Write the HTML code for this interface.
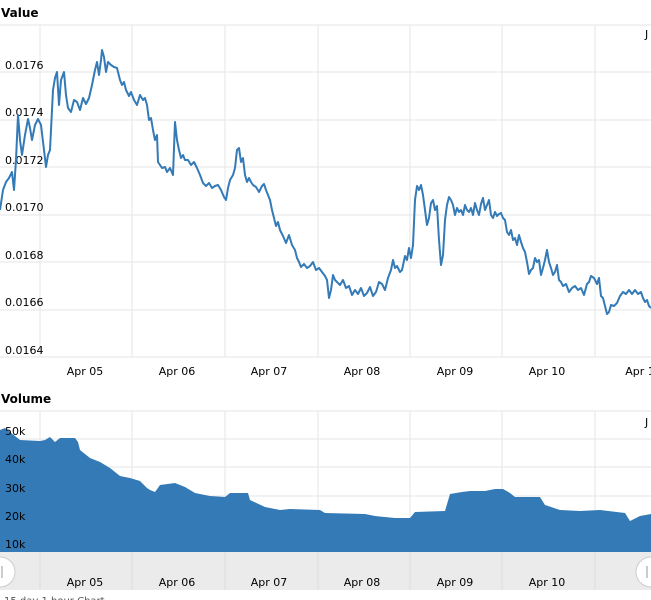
<!DOCTYPE html>
<html><head><style>
body{margin:0;background:#fff;width:651px;height:600px;overflow:hidden;font-family:"Liberation Sans",Verdana,sans-serif}
svg{display:block}
text{font-family:"DejaVu Sans","Liberation Sans",sans-serif;font-size:11px;fill:#000}
</style></head><body>
<svg width="651" height="600" viewBox="0 0 651 600">
<text x="1" y="17" style="font-weight:bold;font-size:12px">Value</text>
<g stroke="#e6e6e6" stroke-width="1">
<line x1="0" y1="25" x2="651" y2="25"/><line x1="0" y1="72" x2="651" y2="72"/><line x1="0" y1="120" x2="651" y2="120"/><line x1="0" y1="167" x2="651" y2="167"/><line x1="0" y1="215" x2="651" y2="215"/><line x1="0" y1="262" x2="651" y2="262"/><line x1="0" y1="310" x2="651" y2="310"/><line x1="0" y1="357" x2="651" y2="357"/>
<line x1="40" y1="25" x2="40" y2="357"/><line x1="132" y1="25" x2="132" y2="357"/><line x1="225" y1="25" x2="225" y2="357"/><line x1="318" y1="25" x2="318" y2="357"/><line x1="410" y1="25" x2="410" y2="357"/><line x1="502" y1="25" x2="502" y2="357"/><line x1="595" y1="25" x2="595" y2="357"/>
</g>
<g>
<text x="5" y="69">0.0176</text><text x="5" y="116">0.0174</text><text x="5" y="164">0.0172</text><text x="5" y="211">0.0170</text><text x="5" y="259">0.0168</text><text x="5" y="306">0.0166</text><text x="5" y="354">0.0164</text>
<text x="645" y="38">J</text>
</g>
<polyline fill="none" stroke="#337ab7" stroke-width="2" stroke-linejoin="round" points="0,210 3,190 6,182 9,178 12,172 14,190 16,160 18,115 20,140 22,155 25,135 28,119 30,128 32,140 35,125 38,119 41,125 44,150 46,167 48,155 50,150 53,90 55,78 57,72 59,105 61,80 64,72 66,95 68,108 71,112 74,100 77,102 80,110 83,98 86,104 89,98 92,85 95,70 97,62 99,75 101,60 102,50 104,57 106,72 108,62 111,65 114,67 117,68 120,80 122,85 124,82 126,90 129,96 131,92 134,100 137,105 140,95 143,100 145,98 147,105 149,120 151,118 153,130 155,140 157,135 158,162 160,165 162,168 165,167 167,172 170,168 173,175 175,122 177,140 179,150 181,158 183,155 185,160 188,160 191,165 194,162 197,168 200,175 203,183 206,186 209,183 212,188 215,186 218,185 221,190 224,197 226,200 228,188 230,180 233,175 235,168 237,150 239,148 241,162 243,158 245,175 247,182 249,178 251,182 253,185 256,187 259,192 262,186 264,184 266,190 268,195 270,200 272,210 274,218 276,226 278,222 280,230 283,236 286,243 289,235 292,245 295,250 297,258 299,262 301,267 304,264 307,268 310,266 313,262 316,270 319,268 322,272 325,276 327,280 329,298 331,290 333,275 335,280 337,282 340,285 343,280 346,288 349,286 352,295 355,290 358,294 361,288 364,296 367,293 370,287 373,296 376,292 379,282 382,284 385,290 388,278 391,270 393,260 395,268 397,266 400,272 402,270 405,256 407,260 409,248 411,258 413,245 415,200 417,186 419,190 421,185 423,195 425,210 427,225 429,218 431,203 433,200 435,210 437,206 439,240 441,265 443,255 445,220 447,205 449,197 451,200 453,205 455,215 457,208 459,212 461,210 463,215 465,205 467,210 469,212 471,208 473,215 475,203 477,210 479,215 481,204 483,198 485,210 487,205 489,200 491,215 493,218 495,212 497,216 499,214 501,213 503,218 505,220 507,232 509,235 511,230 513,240 515,238 517,245 519,235 521,242 523,248 525,252 527,262 529,274 531,270 533,268 535,258 537,262 539,260 541,275 543,268 545,260 547,250 549,262 551,268 553,275 555,272 557,265 559,280 561,282 563,286 566,284 569,292 572,288 575,286 578,290 581,288 584,295 587,284 589,282 591,276 594,278 597,284 599,278 601,296 603,298 605,306 607,314 609,312 611,305 614,306 617,303 620,296 623,292 626,294 629,290 632,294 635,290 638,294 641,292 643,298 645,302 647,300 649,306 651,308"/>
<g style="font-size:11px">
<text x="85" y="375" text-anchor="middle">Apr 05</text><text x="177" y="375" text-anchor="middle">Apr 06</text><text x="269" y="375" text-anchor="middle">Apr 07</text><text x="362" y="375" text-anchor="middle">Apr 08</text><text x="455" y="375" text-anchor="middle">Apr 09</text><text x="547" y="375" text-anchor="middle">Apr 10</text><text x="640" y="375" text-anchor="middle">Apr 1</text>
</g>
<text x="1" y="403" style="font-weight:bold;font-size:12px">Volume</text>
<g stroke="#e6e6e6" stroke-width="1">
<line x1="0" y1="411" x2="651" y2="411"/><line x1="0" y1="439" x2="651" y2="439"/><line x1="0" y1="467" x2="651" y2="467"/><line x1="0" y1="496" x2="651" y2="496"/><line x1="0" y1="524" x2="651" y2="524"/>
<line x1="40" y1="411" x2="40" y2="590"/><line x1="132" y1="411" x2="132" y2="590"/><line x1="225" y1="411" x2="225" y2="590"/><line x1="318" y1="411" x2="318" y2="590"/><line x1="410" y1="411" x2="410" y2="590"/><line x1="502" y1="411" x2="502" y2="590"/><line x1="595" y1="411" x2="595" y2="590"/>
</g>
<polygon fill="#337ab7" points="0,552 0,430 5,428 10,432 20,440 40,441 45,440 50,437 55,442 60,438 75,438 78,442 80,450 90,458 100,462 110,468 115,472 120,476 130,478 140,481 147,488 150,490 155,492 160,485 175,483 185,487 195,493 210,496 225,497 230,493 248,493 250,500 265,507 280,510 290,509 320,510 325,513 365,514 375,516 395,518 410,518 415,512 445,511 450,494 462,492 470,491 485,491 495,489 503,489 510,493 515,497 540,497 545,505 560,510 580,511 600,510 625,513 630,521 640,516 651,514 651,552"/>
<text x="5" y="435">50k</text><text x="5" y="463">40k</text><text x="5" y="492">30k</text><text x="5" y="520">20k</text><text x="5" y="548">10k</text>
<text x="645" y="426">J</text>
<rect x="0" y="552" width="651" height="38" fill="#ebebeb"/>
<g stroke="#dcdcdc"><line x1="40" y1="552" x2="40" y2="590"/><line x1="132" y1="552" x2="132" y2="590"/><line x1="225" y1="552" x2="225" y2="590"/><line x1="318" y1="552" x2="318" y2="590"/><line x1="410" y1="552" x2="410" y2="590"/><line x1="502" y1="552" x2="502" y2="590"/><line x1="595" y1="552" x2="595" y2="590"/></g>
<circle cx="0" cy="572" r="15" fill="#fff" stroke="#ccc"/>
<line x1="2" y1="566" x2="2" y2="578" stroke="#999"/>
<circle cx="651" cy="572" r="15" fill="#fff" stroke="#ccc"/>
<line x1="647" y1="566" x2="647" y2="578" stroke="#999"/>
<g>
<text x="85" y="586" text-anchor="middle">Apr 05</text><text x="177" y="586" text-anchor="middle">Apr 06</text><text x="269" y="586" text-anchor="middle">Apr 07</text><text x="362" y="586" text-anchor="middle">Apr 08</text><text x="455" y="586" text-anchor="middle">Apr 09</text><text x="547" y="586" text-anchor="middle">Apr 10</text>
</g>
<text x="4" y="604" style="font-size:10px;fill:#555">15 day 1 hour Chart</text>
</svg>
</body></html>
